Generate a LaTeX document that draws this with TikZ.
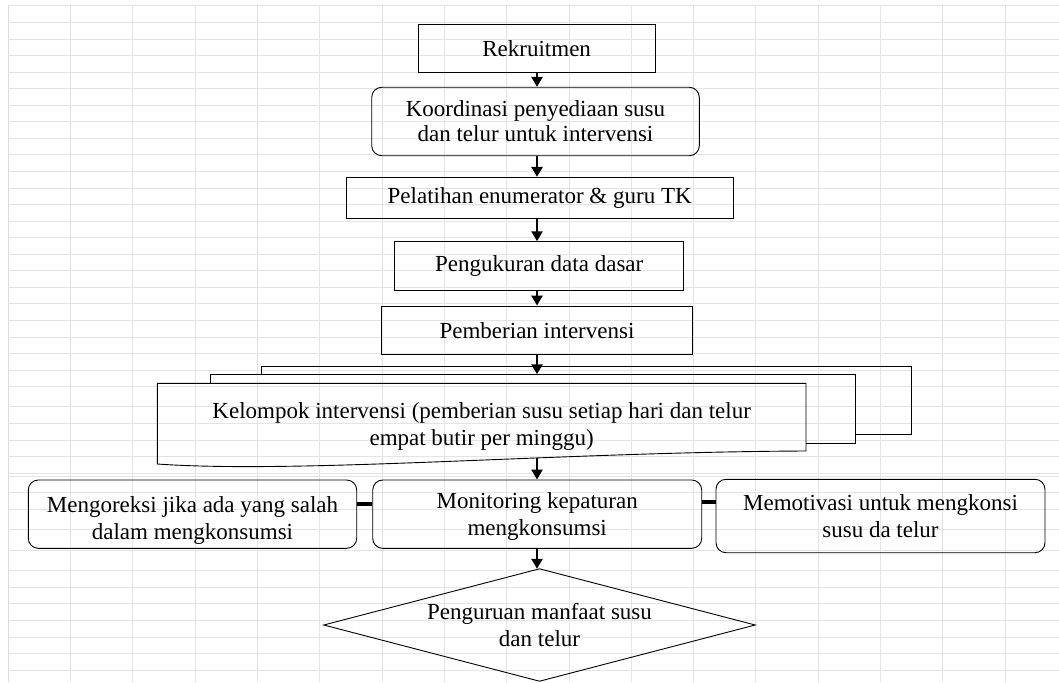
\documentclass[tikz,border=0pt]{standalone}
\usepackage{fontspec}
\setmainfont{Liberation Serif}
\usetikzlibrary{arrows.meta,calc}
\newcommand\TS{\fontsize{23}{27}\selectfont}
\newcommand\TSK{\fontsize{23}{25}\selectfont}
\begin{document}
\begin{tikzpicture}[x=1pt,y=-1pt,
  box/.style={draw, line width=0.9pt, inner sep=0pt, align=center, font=\TS},
  rbox/.style={box, rounded corners=10pt},
  txt/.style={inner sep=0pt, align=center, font=\TS},
  arr/.style={line width=2.6pt, -{Triangle[width=11pt,length=10pt]}},
  link/.style={line width=4.5pt},
  shapeline/.style={line width=0.9pt},
  gline/.style={draw=gray!21, line width=1pt}]
\useasboundingbox (0,0) rectangle (1059,682);
% spreadsheet grid background
\foreach \k in {0,...,16} \draw[gline] ({8.3+62.3*\k},6) -- ({8.3+62.3*\k},682);
\foreach \k in {0,...,23} \draw[gline] (8.3,{6+16.55*\k}) -- (1059,{6+16.55*\k});
\foreach \yy in {406.7,423.3,440,456.7,473.3,476,492.7,509.3,529.3,550,570.3,587,603.7,620.3,637,653.7,670.3}
  \draw[gline] (8.3,\yy) -- (1059,\yy);
\draw[draw=gray!28, line width=1.5pt] (8.3,6) -- (8.3,682);

% boxes
\node[box, minimum width=236.7pt, minimum height=48.7pt] (rek) at (536.65,48.35) {Rekruitmen};
\node[rbox, font=\TSK, minimum width=327.6pt, minimum height=68.4pt] (koo) at (535.5,121.5) {Koordinasi penyediaan susu\\dan telur untuk intervensi};
\node[box, minimum width=387.3pt, minimum height=41pt] (pel) at (539.65,197.8) {Pelatihan enumerator \& guru TK};
\node[box, minimum width=289pt, minimum height=48.3pt] (pen) at (539.2,265.85) {Pengukuran data dasar};
\node[box, minimum width=310.6pt, minimum height=48.3pt] (pmb) at (537,330.15) {Pemberian intervensi};

% multidocument
\draw[shapeline] (261,374.3) -- (261,366) -- (911,366) -- (911,434) -- (855.3,434);
\draw[shapeline] (210.7,383.3) -- (210.7,374.3) -- (855.3,374.3) -- (855.3,443) -- (806,443);
\draw[shapeline] (157.3,383.3) -- (806,383.3) -- (806,451) .. controls (560,452) and (300,474) .. (157.3,464) -- cycle;
\node[txt] (kel) at (481.65,426.3) {Kelompok intervensi (pemberian susu setiap hari dan telur\\empat butir per minggu)};
\coordinate (kin) at (537,374.3);
\coordinate (kout) at (537,457.5);

% row
\node[rbox, minimum width=328.4pt, minimum height=68.3pt] (mgk) at (192.5,514.15) {};
\node[txt] (mgkt) at ([yshift=-6.7pt]mgk.center) {Mengoreksi jika ada yang salah\\dalam mengkonsumsi};
\node[rbox, minimum width=329pt, minimum height=68.3pt] (mon) at (537.2,514.15) {};
\node[txt] (mont) at ([yshift=-2pt]mon.center) {Monitoring kepaturan\\mengkonsumsi};
\node[rbox, minimum width=329pt, minimum height=73.4pt] (mot) at (880.5,516) {Memotivasi untuk mengkonsi\\susu da telur};

% decision
\node[txt, minimum width=431pt, minimum height=112pt] (dia) at (539.5,625) {Penguruan manfaat susu\\dan telur};
\draw[shapeline] (dia.west) -- (dia.north) -- (dia.east) -- (dia.south) -- cycle;

% connectors
\coordinate (ax) at (537,0);
\draw[arr] (rek.south -| ax) -- (koo.north -| ax);
\draw[arr] (koo.south -| ax) -- (pel.north -| ax);
\draw[arr] (pel.south -| ax) -- (pen.north -| ax);
\draw[arr] (pen.south -| ax) -- (pmb.north -| ax);
\draw[arr] (pmb.south -| ax) -- (kin);
\draw[arr] (kout) -- (mon.north -| ax);
\draw[arr] (mon.south -| ax) -- (dia.north -| ax);
\draw[link] ([yshift=10pt]mgk.east) -- ([yshift=10pt]mgk.east -| mon.west);
\draw[link] ([yshift=12pt]mon.east) -- ([yshift=12pt]mon.east -| mot.west);
\end{tikzpicture}
\end{document}
